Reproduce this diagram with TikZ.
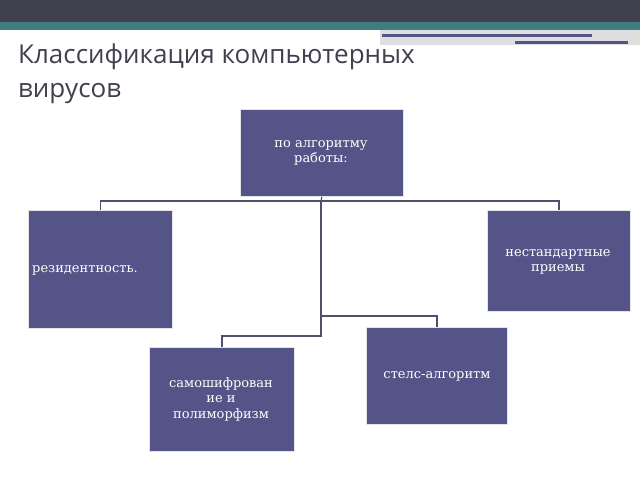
\documentclass[tikz,border=0pt]{standalone}
\usepackage{fontspec}
\setmainfont{DejaVu Serif}
\newfontfamily\titlef{Open Sans}
\begin{document}
\begin{tikzpicture}[x=1pt,y=-1pt,
 box/.style={draw=white!80!gray,line width=0.8pt,fill=boxc,inner sep=2pt},
 lbl/.style={text=white,font=\fontsize{13}{15.5}\selectfont,align=center,inner sep=0pt},
 con/.style={draw=linec,line width=1.2pt}]
\definecolor{boxc}{HTML}{545488}
\definecolor{linec}{HTML}{50506e}
\definecolor{darkc}{HTML}{40404F}
\definecolor{tealc}{HTML}{407D7F}
\useasboundingbox (0,0) rectangle (640,480);
\fill[white] (0,0) rectangle (640,480);
\fill[darkc] (0,0) rectangle (640,22);
\fill[tealc] (0,22) rectangle (640,30);
\fill[gray!25] (380,30) rectangle (640,45);
\fill[boxc] (382,34) rectangle (592,37);
\fill[boxc] (515,41) rectangle (628,44);
\node[anchor=north west,align=left,text=darkc,font=\titlef\fontsize{26}{34}\selectfont,inner sep=0pt] (title) at (18,44) {Классификация компьютерных\\вирусов};
\node[box,minimum width=163,minimum height=87,anchor=north west] (top) at (240,109) {};
\node[lbl] (topt) at (321,153) {по алгоритму\\работы:};
\node[box,minimum width=144,minimum height=118,anchor=north west] (rez) at (28,210) {};
\node[lbl,anchor=west] (rezt) at (32,270) {резидентность.};
\node[box,minimum width=143,minimum height=101,anchor=north west] (nes) at (487,210) {};
\node[lbl] (nest) at (558,262) {нестандартные\\приемы};
\node[box,minimum width=141,minimum height=97,anchor=north west] (stl) at (366,327) {};
\node[lbl] (stlt) at (437,376) {стелс-алгоритм};
\node[box,minimum width=145,minimum height=104,anchor=north west] (sam) at (149,347) {};
\node[lbl] (samt) at (221,399) {самошифрован\\ие и\\полиморфизм};
\coordinate (a) at (321,201);
\draw[con] (top.south) -- (a);
\draw[con] (a) -| (rez.north);
\draw[con] (a) -| (nes.north);
\draw[con] (a) -- (321,336) -| (sam.north);
\draw[con] (321,316) -| (stl.north);
\end{tikzpicture}
\end{document}
